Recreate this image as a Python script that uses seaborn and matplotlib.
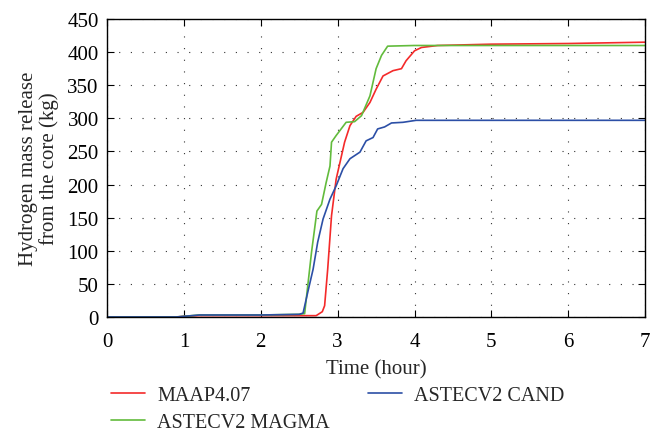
import matplotlib
matplotlib.use("Agg")
import matplotlib.pyplot as plt
import pandas as pd
import seaborn as sns

# ---------- data ----------
maap_t = [0, 0.9, 1.0, 1.2, 2.0, 2.5, 2.72, 2.8, 2.83, 2.87, 2.92, 2.98, 3.09,
          3.16, 3.24, 3.33, 3.42, 3.50, 3.59, 3.72, 3.83, 3.89, 4.00, 4.09,
          4.3, 5.0, 6.0, 7.0]
maap_h = [0, 0, 1, 2, 2, 2, 2, 8, 17, 72, 153, 208, 264, 289, 303, 309, 324,
          344, 364, 372, 375, 387, 402, 407, 410, 412, 413, 415]

magma_t = [0, 0.9, 1.0, 1.2, 2.0, 2.5, 2.57, 2.66, 2.73, 2.79, 2.85, 2.90,
           2.92, 2.98, 3.11, 3.22, 3.31, 3.42, 3.50, 3.57, 3.65, 4.0, 5.0,
           6.0, 7.0]
magma_h = [0, 0, 1, 3, 3, 4, 5, 98, 160, 170, 203, 228, 264, 274, 294, 295,
           304, 334, 375, 395, 409, 410, 410, 410, 410]

cand_t = [0, 0.9, 1.0, 1.2, 2.0, 2.5, 2.55, 2.61, 2.68, 2.74, 2.81, 2.90,
          2.98, 3.07, 3.16, 3.29, 3.37, 3.46, 3.52, 3.61, 3.70, 3.85, 4.02,
          5.0, 6.0, 7.0]
cand_h = [0, 0, 1, 3, 3, 4, 6, 37, 72, 113, 148, 178, 198, 224, 239, 249,
          266, 271, 284, 287, 293, 294, 297, 297, 297, 297]

labels = ["MAAP4.07", "ASTECV2 MAGMA", "ASTECV2 CAND"]
colors = ["#f42a2a", "#62bb3c", "#2c4fa6"]

frames = []
for name, t, h in zip(labels, [maap_t, magma_t, cand_t], [maap_h, magma_h, cand_h]):
    frames.append(pd.DataFrame({"time": t, "mass": h, "code": name}))
df = pd.concat(frames, ignore_index=True)

# ---------- plot ----------
sns.set_style("ticks")
plt.rcParams["font.family"] = ["Liberation Serif", "DejaVu Serif"]
FS = 15

fig = plt.figure(figsize=(6.61, 4.35), dpi=100)
ax = fig.add_axes([0.162, 0.269, 0.814, 0.685])

sns.lineplot(data=df, x="time", y="mass", hue="code", hue_order=labels,
             palette=dict(zip(labels, colors)), linewidth=1.2, ax=ax,
             sort=False, estimator=None)

ax.set_xlim(0, 7)
ax.set_ylim(0, 450)
ax.set_xticks(range(0, 8))
ax.set_yticks(range(0, 451, 50))
ax.grid(True, color="#333333", linestyle=(0, (1, 9.5)), linewidth=0.8)
for side in ax.spines.values():
    side.set_visible(True)
    side.set_linewidth(1.0)
    side.set_color("black")
ax.tick_params(direction="in", top=True, right=True, length=5,
               labelsize=FS, colors="black")
ax.tick_params(axis="x", pad=11)
ax.tick_params(axis="y", pad=6)

ax.set_xlabel("Time (hour)", fontsize=FS, labelpad=6)
ax.set_ylabel("Hydrogen mass release\nfrom the core (kg)", fontsize=FS,
              linespacing=1.05, labelpad=6)

ax.legend(loc="upper left", bbox_to_anchor=(-0.027, -0.172), ncol=2,
          frameon=False, fontsize=14.5, handlelength=1.7, handletextpad=0.6,
          columnspacing=1.9, labelspacing=0.35)

fig.savefig("out.png", dpi=100)
